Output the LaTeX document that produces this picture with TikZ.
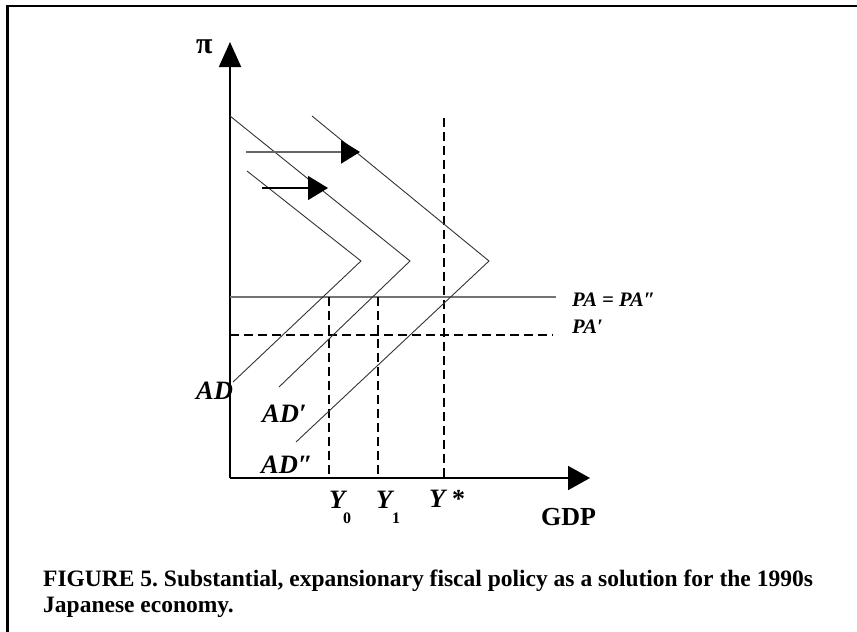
\documentclass[tikz,border=0pt]{standalone}
\usepackage{fontspec}
\setmainfont{Liberation Serif}
\usetikzlibrary{arrows.meta}
\frenchspacing
\begin{document}
\begin{tikzpicture}[x=1pt,y=-1pt,
  frameline/.style={draw=black, line width=2.8pt},
  axis/.style={draw=black, line width=2pt},
  curve/.style={draw=black!80, line width=0.9pt},
  dashline/.style={draw=black, line width=2.7pt, dash pattern=on 9pt off 5pt},
  paline/.style={draw=black!55, line width=2pt},
  lbl/.style={inner sep=0pt, font=\fontsize{26.5}{26.5}\selectfont\bfseries\itshape},
  lblsmall/.style={inner sep=0pt, font=\fontsize{20.6}{20.6}\selectfont\bfseries\itshape},
  subtxt/.style={inner sep=0pt, font=\fontsize{16}{16}\selectfont\bfseries},
  rlbl/.style={inner sep=0pt, font=\fontsize{26}{26}\selectfont\bfseries},
  pitxt/.style={inner sep=0pt, font=\fontsize{30}{30}\selectfont\bfseries},
  captxt/.style={inner sep=0pt, font=\fontsize{23.5}{23.5}\selectfont\bfseries}]
\useasboundingbox (0,0) rectangle (857,632);
% frame
\coordinate (fbl) at (7.5,632);
\coordinate (ftl) at (7.5,6);
\coordinate (ftr) at (857,6);
\draw[frameline] (fbl) -- (ftl) -- (ftr);
% axes
\coordinate (O) at (230,478);
\coordinate (ytip) at (230,42);
\coordinate (xtip) at (590,478);
\draw[axis, -{Triangle[length=25pt,width=22pt]}] (O) -- (ytip);
\draw[axis, -{Triangle[length=22pt,width=24pt]}] (O) -- (xtip);
% PA lines
\coordinate (pa1) at (230,297);
\coordinate (pa2) at (556,297);
\coordinate (pb1) at (230,335);
\coordinate (pb2) at (553,335);
\draw[paline] (pa1) -- (pa2);
\draw[dashline] (pb1) -- (pb2);
% vertical dashed lines
\coordinate (y0t) at (329,297);
\coordinate (y0b) at (329,478);
\coordinate (y1t) at (378,297);
\coordinate (y1b) at (378,478);
\coordinate (yst) at (444,118);
\coordinate (ysb) at (444,478);
\draw[dashline] (y0t) -- (y0b);
\draw[dashline] (y1t) -- (y1b);
\draw[dashline] (yst) -- (ysb);
% AD curves
\coordinate (a1) at (247,171);
\coordinate (a2) at (361,261);
\coordinate (a3) at (233,382);
\coordinate (b1) at (230,116);
\coordinate (b2) at (410,261);
\coordinate (b3) at (279,387);
\coordinate (c1) at (312,116);
\coordinate (c2) at (489,261);
\coordinate (c3) at (296,442);
\draw[curve] (a1) -- (a2) -- (a3);
\draw[curve] (b1) -- (b2) -- (b3);
\draw[curve] (c1) -- (c2) -- (c3);
% shift arrows
\coordinate (s1a) at (246,152);
\coordinate (s1b) at (360,152);
\coordinate (s2a) at (262,188);
\coordinate (s2b) at (328,188);
\draw[draw=black!60, line width=2pt, -{Triangle[length=19pt,width=23pt,color=black]}] (s1a) -- (s1b);
\draw[draw=black, line width=1.4pt, -{Triangle[length=20pt,width=24pt]}] (s2a) -- (s2b);
% labels
\node[pitxt, anchor=base west] (pi) at (196,53) {π};
\node[lbl, anchor=base west] (ad) at (196,399) {AD};
\node[lbl, anchor=base west] (adp) at (262,422) {AD′};
\node[lbl, anchor=base west] (adpp) at (261,473) {AD″};
\node[lblsmall, anchor=base west] (pa) at (572,306) {PA = PA″};
\node[lblsmall, anchor=base west] (pap) at (572,333) {PA′};
\node[lbl, anchor=base west] (y0) at (329,508) {Y};
\node[subtxt, anchor=base west] (y0s) at (343,523) {0};
\node[lbl, anchor=base west] (y1) at (376,508) {Y};
\node[subtxt, anchor=base west] (y1s) at (392,523) {1};
\node[lbl, anchor=base west] (ys) at (429,507) {Y};
\node[rlbl, anchor=base west] (yss) at (452,507) {*};
\node[rlbl, anchor=base west] (gdp) at (541,525) {GDP};
\node[captxt, anchor=base west] (cap1) at (43,586) {FIGURE 5. Substantial, expansionary fiscal policy as a solution for the 1990s};
\node[captxt, anchor=base west] (cap2) at (43,612) {Japanese economy.};
\end{tikzpicture}
\end{document}
